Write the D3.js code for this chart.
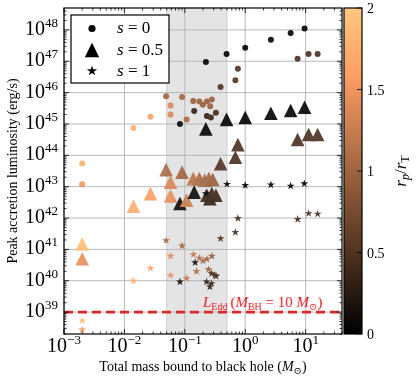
<!DOCTYPE html>
<html>
  <head>
    <meta charset="utf-8">
    <style>
      body { margin: 0; background: #fff; }
      text { font-family: "Liberation Serif", "DejaVu Serif", serif; fill: #000; }
      .grid line { stroke: #b8b8b8; stroke-width: 1; }
    </style>
    <script src="https://cdnjs.cloudflare.com/ajax/libs/d3/7.8.5/d3.min.js"></script>
  </head>
  <body>
    <svg width="416" height="379" id="SVG"></svg>
    <script>
      // s = 0 (circles)
      var circleMass = [0.002, 0.002, 0.0141, 0.027, 0.049, 0.058, 0.058, 0.090, 0.083, 0.107,
                        0.138, 0.174, 0.199, 0.232, 0.263, 0.28, 0.143, 0.232, 0.27, 0.327,
                        0.391, 0.687, 0.756, 0.223, 0.491, 1.0, 2.66, 5.65, 9.6, 7.37, 11.2, 15.8];
      var circleLum = [5.5e43, 1.2e43, 7.5e44, 1.7e45, 7.6e45, 3.9e45, 2.0e45, 7.2e45, 1.0e45, 1.4e45,
                       5.4e45, 5.2e45, 4.1e45, 5.2e45, 3.7e45, 6.0e45, 2.6e45, 1.8e45, 1.6e45, 2.3e45,
                       1.5e46, 2.5e46, 5.8e46, 9.5e46, 1.7e47, 2.7e47, 4.9e47, 7.9e47, 1.1e48, 1.2e47, 1.7e47, 1.7e47];
      var circleRatio = [1.8, 1.5, 1.75, 1.6, 1.0, 1.35, 1.35, 1.0, 0.08, 1.05,
                         0.95, 0.95, 0.95, 0.95, 0.95, 0.95, 0.3, 0.3, 0.35, 0.4,
                         0.5, 0.5, 0.5, 0, 0, 0, 0, 0, 0, 0.45, 0.45, 0.45];

      // s = 0.5 (triangles)
      var triMass = [0.002, 0.002, 0.0141, 0.027, 0.049, 0.058, 0.058, 0.090, 0.083, 0.107,
                     0.138, 0.174, 0.214, 0.25, 0.29, 0.143, 0.232, 0.28, 0.327, 0.26,
                     0.391, 0.687, 0.756, 0.223, 0.491, 1.0, 2.66, 5.65, 9.6, 7.37, 11.2, 15.8];
      var triLum = [1.5e41, 5.0e40, 2.4e42, 6.0e42, 3.5e43, 1.4e43, 5.1e42, 2.9e43, 2.9e42, 3.7e42,
                    1.8e43, 1.8e43, 1.6e43, 1.8e43, 1.7e43, 6.7e42, 5.3e42, 6.0e42, 5.3e42, 4.1e42,
                    5.4e43, 8.7e43, 2.2e44, 7.0e44, 1.4e45, 1.6e45, 2.2e45, 2.7e45, 3.4e45, 3.2e44, 4.6e44, 4.6e44];
      var triRatio = [1.9, 1.45, 1.75, 1.6, 1.05, 1.35, 1.45, 1.0, 0.08, 1.25,
                      1.15, 1.05, 1.0, 1.0, 0.95, 0.1, 0.35, 0.4, 0.35, 0.3,
                      0.5, 0.45, 0.45, 0, 0, 0, 0, 0, 0, 0.45, 0.45, 0.45];

      // s = 1 (stars)
      var starMass = [0.002, 0.002, 0.0141, 0.027, 0.049, 0.058, 0.058, 0.090, 0.083, 0.107,
                      0.139, 0.174, 0.199, 0.232, 0.28, 0.148, 0.156, 0.247, 0.277, 0.314,
                      0.33, 0.229, 0.277, 0.26, 0.391, 0.687, 0.756, 0.223, 0.50, 1.0,
                      2.66, 5.65, 9.5, 7.37, 11.2, 15.8];
      var starLum = [5.3e38, 2.7e38, 9.9e39, 2.5e40, 1.9e41, 6.1e40, 1.5e40, 1.3e41, 9.2e39, 1.2e40,
                     6.9e40, 5.3e40, 4.3e40, 4.9e40, 6.1e40, 3.8e40, 2.0e40, 2.3e40, 1.7e40, 1.5e40,
                     1.4e40, 9.2e39, 8.2e39, 6.4e39, 2.2e41, 3.5e41, 9.8e41, 6.0e42, 1.2e43, 1.1e43,
                     1.15e43, 1.05e43, 1.25e43, 9.1e41, 1.4e42, 1.35e42];
      var starRatio = [1.9, 1.5, 1.75, 1.6, 1.05, 1.4, 1.45, 1.0, 0.08, 1.2,
                       1.2, 1.1, 1.05, 1.0, 0.95, 0.12, 1.1, 1.0, 0.35, 0.4,
                       0.4, 0.3, 0.35, 0.3, 0.5, 0.45, 0.45, 0, 0, 0,
                       0, 0, 0, 0.45, 0.45, 0.45];

      var xTickExp = [-3, -2, -1, 0, 1];
      var yTickExp = [39, 40, 41, 42, 43, 44, 45, 46, 47, 48];
      var cbarTicks = [0, 0.5, 1, 1.5, 2];
      var cbarTickLabels = ["0", "0.5", "1", "1.5", "2"];
      var bandRange = [0.05, 0.5];
      var eddLum = 1e39;
      var legendLabels = ["0", "0.5", "1"];

      var svg = d3.select("#SVG");
      var plotLeft = 64, plotRight = 342, plotTop = 8, plotBottom = 334;

      var x = d3.scaleLog().domain([1e-3, 40]).range([plotLeft, plotRight]);
      var y = d3.scaleLog().domain([2e38, 5e48]).range([plotBottom, plotTop]);

      // matplotlib "copper" colormap over 0..2
      function copper(v) {
        var t = Math.max(0, Math.min(1, v / 2));
        return d3.rgb(Math.min(1, 1.25 * t) * 255, 0.7812 * t * 255, 0.4975 * t * 255).toString();
      }

      function trianglePath(a) {
        return "M0," + (-a) + "L" + a + "," + a + "L" + (-a) + "," + a + "Z";
      }
      function starPath(R) {
        var p = [];
        for (var i = 0; i < 10; i++) {
          var ang = -Math.PI / 2 + i * Math.PI / 5;
          var rr = i % 2 ? R * 0.382 : R;
          p.push([rr * Math.cos(ang), rr * Math.sin(ang)]);
        }
        return "M" + p.join("L") + "Z";
      }

      // shaded band
      svg.append("rect")
         .attr("x", x(bandRange[0])).attr("y", plotTop)
         .attr("width", x(bandRange[1]) - x(bandRange[0]))
         .attr("height", plotBottom - plotTop)
         .attr("fill", "#e4e4e4")
         .attr("stroke", "#d2d2d2");

      // grid
      var grid = svg.append("g").attr("class", "grid");
      xTickExp.forEach(function(e) {
        var px = x(Math.pow(10, e));
        grid.append("line").attr("x1", px).attr("x2", px).attr("y1", plotTop).attr("y2", plotBottom);
      });
      yTickExp.forEach(function(e) {
        var py = y(Math.pow(10, e));
        grid.append("line").attr("x1", plotLeft).attr("x2", plotRight).attr("y1", py).attr("y2", py);
      });

      // Eddington line
      svg.append("line")
         .attr("x1", plotLeft).attr("x2", plotRight)
         .attr("y1", y(eddLum)).attr("y2", y(eddLum))
         .attr("stroke", "#d92a2a").attr("stroke-width", 2.6)
         .attr("stroke-dasharray", "9,5");

      var edd = svg.append("text")
         .attr("x", 203).attr("y", 307)
         .attr("font-size", 15)
         .style("fill", "#e8242a");
      edd.append("tspan").attr("font-style", "italic").text("L");
      edd.append("tspan").attr("font-size", 10).attr("dy", 3).text("Edd");
      edd.append("tspan").attr("dy", -3).text("\u2009(");
      edd.append("tspan").attr("font-style", "italic").text("M");
      edd.append("tspan").attr("font-size", 10).attr("dy", 3).text("BH");
      edd.append("tspan").attr("dy", -3).text(" = 10 ");
      edd.append("tspan").attr("font-style", "italic").text("M");
      edd.append("tspan").attr("font-size", 10).attr("dy", 3).text("\u2299");
      edd.append("tspan").attr("dy", -3).text(")");

      // markers
      var marks = svg.append("g").attr("opacity", 0.9);
      marks.selectAll(".circ")
         .data(d3.range(circleMass.length))
         .enter().append("circle")
         .attr("class", "circ")
         .attr("cx", function(i) { return x(circleMass[i]); })
         .attr("cy", function(i) { return y(circleLum[i]); })
         .attr("r", 3)
         .attr("fill", function(i) { return copper(circleRatio[i]); });

      marks.selectAll(".tri")
         .data(d3.range(triMass.length))
         .enter().append("path")
         .attr("class", "tri")
         .attr("d", trianglePath(6.8))
         .attr("transform", function(i) { return "translate(" + x(triMass[i]) + "," + y(triLum[i]) + ")"; })
         .attr("fill", function(i) { return copper(triRatio[i]); });

      marks.selectAll(".star")
         .data(d3.range(starMass.length))
         .enter().append("path")
         .attr("class", "star")
         .attr("d", starPath(4.2))
         .attr("transform", function(i) { return "translate(" + x(starMass[i]) + "," + y(starLum[i]) + ")"; })
         .attr("fill", function(i) { return copper(starRatio[i]); });

      // frame + ticks
      svg.append("rect")
         .attr("x", plotLeft).attr("y", plotTop)
         .attr("width", plotRight - plotLeft).attr("height", plotBottom - plotTop)
         .attr("fill", "none").attr("stroke", "#000").attr("stroke-width", 1.2);

      var ticks = svg.append("g").attr("stroke", "#000").attr("stroke-width", 0.8);
      for (var e = -3; e <= 1; e++) {
        for (var k = 1; k <= 9; k++) {
          var v = k * Math.pow(10, e);
          if (v > 40) continue;
          var len = k == 1 ? 5 : 2.5;
          var px = x(v);
          ticks.append("line").attr("x1", px).attr("x2", px).attr("y1", plotBottom).attr("y2", plotBottom - len);
          ticks.append("line").attr("x1", px).attr("x2", px).attr("y1", plotTop).attr("y2", plotTop + len);
        }
      }
      for (var e = 38; e <= 48; e++) {
        for (var k = 1; k <= 9; k++) {
          var v = k * Math.pow(10, e);
          if (v < 2e38 || v > 5e48) continue;
          var len = k == 1 ? 5 : 2.5;
          var py = y(v);
          ticks.append("line").attr("x1", plotLeft).attr("x2", plotLeft + len).attr("y1", py).attr("y2", py);
          ticks.append("line").attr("x1", plotRight).attr("x2", plotRight - len).attr("y1", py).attr("y2", py);
        }
      }

      function powLabel(t, exp) {
        t.append("tspan").text("10");
        t.append("tspan").attr("font-size", 13).attr("dy", -8)
         .text(exp < 0 ? "\u2212" + (-exp) : exp);
      }
      xTickExp.forEach(function(e) {
        var t = svg.append("text")
                   .attr("x", x(Math.pow(10, e))).attr("y", 352)
                   .attr("text-anchor", "middle").attr("font-size", 20);
        powLabel(t, e);
      });
      yTickExp.forEach(function(e) {
        var t = svg.append("text")
                   .attr("x", 58).attr("y", y(Math.pow(10, e)) + 5)
                   .attr("text-anchor", "end").attr("font-size", 20);
        powLabel(t, e);
      });

      // axis labels
      svg.append("text")
         .attr("transform", "translate(17," + (plotTop + plotBottom) / 2 + ") rotate(-90)")
         .attr("text-anchor", "middle").attr("font-size", 14)
         .text("Peak accretion luminosity (erg/s)");
      var xl = svg.append("text")
         .attr("x", (plotLeft + plotRight) / 2).attr("y", 371)
         .attr("text-anchor", "middle").attr("font-size", 14);
      xl.append("tspan").text("Total mass bound to black hole (");
      xl.append("tspan").attr("font-style", "italic").text("M");
      xl.append("tspan").attr("font-size", 10).attr("dy", 3).text("\u2299");
      xl.append("tspan").attr("dy", -3).text(")");

      // legend
      var lg = svg.append("g");
      lg.append("rect").attr("x", 71).attr("y", 15).attr("width", 98).attr("height", 68)
        .attr("fill", "#fff").attr("stroke", "#000").attr("stroke-width", 1.2);
      lg.append("circle").attr("cx", 92).attr("cy", 28.5).attr("r", 3.6).attr("fill", "#000");
      lg.append("path").attr("d", trianglePath(7.2)).attr("transform", "translate(92,50)").attr("fill", "#000");
      lg.append("path").attr("d", starPath(5.4)).attr("transform", "translate(92,71)").attr("fill", "#000");
      legendLabels.forEach(function(l, i) {
        var t = lg.append("text").attr("x", 117).attr("y", 33 + i * 21.5).attr("font-size", 17);
        t.append("tspan").attr("font-style", "italic").text("s");
        t.append("tspan").text(" = " + l);
      });

      // colorbar
      var cbX = 344, cbW = 18;
      var cb = d3.scaleLinear().domain([0, 2]).range([plotBottom, plotTop]);
      var defs = svg.append("defs");
      var grad = defs.append("linearGradient").attr("id", "copper")
                     .attr("x1", 0).attr("y1", 1).attr("x2", 0).attr("y2", 0);
      d3.range(0, 1.0001, 0.05).forEach(function(t) {
        grad.append("stop").attr("offset", t).attr("stop-color", copper(t * 2));
      });
      svg.append("rect").attr("x", cbX).attr("y", plotTop).attr("width", cbW).attr("height", plotBottom - plotTop)
         .attr("fill", "url(#copper)").attr("stroke", "#000").attr("stroke-width", 1.2);
      cbarTicks.forEach(function(v, i) {
        svg.append("line").attr("x1", cbX + cbW).attr("x2", cbX + cbW - 5)
           .attr("y1", cb(v)).attr("y2", cb(v)).attr("stroke", "#000").attr("stroke-width", 0.8);
        svg.append("text").attr("x", cbX + cbW + 5).attr("y", cb(v) + 5)
           .attr("font-size", 14).text(cbarTickLabels[i]);
      });
      var cl = svg.append("text")
         .attr("transform", "translate(406," + (plotTop + plotBottom) / 2 + ") rotate(-90)")
         .attr("text-anchor", "middle").attr("font-size", 17);
      cl.append("tspan").attr("font-style", "italic").text("r");
      cl.append("tspan").attr("font-style", "italic").attr("font-size", 12).attr("dy", 3).text("p");
      cl.append("tspan").attr("dy", -3).text("/");
      cl.append("tspan").attr("font-style", "italic").text("r");
      cl.append("tspan").attr("font-size", 12).attr("dy", 3).text("T");
    </script>
  </body>
</html>
